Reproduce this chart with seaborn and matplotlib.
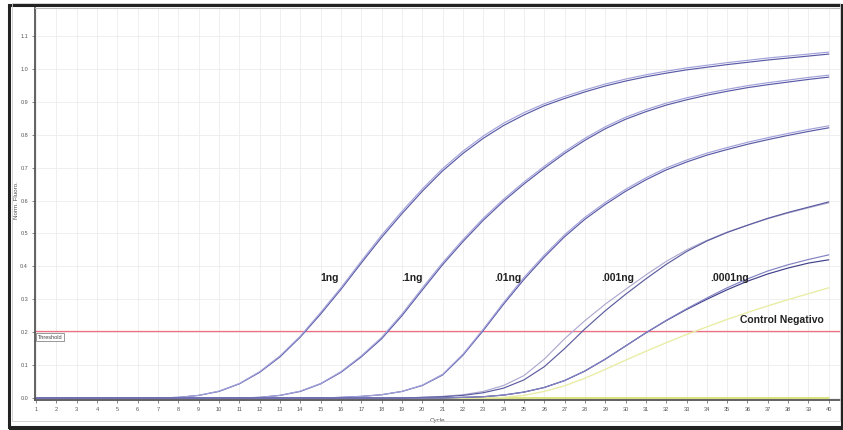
import matplotlib
matplotlib.use("Agg")
import matplotlib.pyplot as plt
import seaborn as sns
import pandas as pd
from matplotlib.patches import Rectangle

# ---------------- data ----------------
cycles = list(range(1, 41))

ng1_a = [0, 0, 0, 0, 0, 0, 0, 0.002, 0.008, 0.02, 0.043, 0.078, 0.125, 0.185, 0.255, 0.33, 0.41, 0.488, 0.56, 0.628,
         0.69, 0.743, 0.789, 0.828, 0.86, 0.888, 0.91, 0.93, 0.948, 0.963, 0.976, 0.987, 0.997, 1.005, 1.013, 1.02, 1.027, 1.033, 1.039, 1.045]
ng1_b = [0, 0, 0, 0, 0, 0, 0, 0.002, 0.008, 0.021, 0.044, 0.08, 0.128, 0.188, 0.26, 0.335, 0.416, 0.495, 0.567, 0.635,
         0.697, 0.75, 0.796, 0.835, 0.867, 0.894, 0.916, 0.936, 0.954, 0.969, 0.982, 0.993, 1.003, 1.011, 1.019, 1.026, 1.033, 1.039, 1.045, 1.051]

ng01_a = [0, 0, 0, 0, 0, 0, 0, 0, 0, 0, 0, 0.002, 0.008, 0.02, 0.043, 0.078, 0.125, 0.18, 0.25, 0.328,
          0.405, 0.475, 0.54, 0.598, 0.65, 0.698, 0.743, 0.783, 0.818, 0.847, 0.87, 0.89, 0.906, 0.92, 0.932, 0.943, 0.952, 0.96, 0.968, 0.975]
ng01_b = [0, 0, 0, 0, 0, 0, 0, 0, 0, 0, 0, 0.002, 0.008, 0.021, 0.044, 0.08, 0.128, 0.184, 0.255, 0.334,
          0.411, 0.481, 0.546, 0.604, 0.656, 0.704, 0.749, 0.789, 0.824, 0.853, 0.876, 0.896, 0.912, 0.926, 0.938, 0.949, 0.958, 0.966, 0.974, 0.981]

ng001_a = [0, 0, 0, 0, 0, 0, 0, 0, 0, 0, 0, 0, 0, 0, 0, 0.002, 0.005, 0.01, 0.02, 0.038,
           0.07, 0.13, 0.205, 0.285, 0.36, 0.428, 0.49, 0.543, 0.588, 0.628, 0.663, 0.693, 0.717, 0.738, 0.755, 0.771, 0.785, 0.798, 0.81, 0.821]
ng001_b = [0, 0, 0, 0, 0, 0, 0, 0, 0, 0, 0, 0, 0, 0, 0, 0.002, 0.005, 0.01, 0.02, 0.039,
           0.072, 0.133, 0.209, 0.29, 0.366, 0.434, 0.496, 0.549, 0.594, 0.634, 0.669, 0.699, 0.723, 0.744, 0.761, 0.777, 0.791, 0.804, 0.816, 0.827]

ng0001_a = [0, 0, 0, 0, 0, 0, 0, 0, 0, 0, 0, 0, 0, 0, 0, 0, 0, 0, 0, 0.002,
            0.005, 0.01, 0.02, 0.038, 0.068, 0.118, 0.18, 0.235, 0.285, 0.33, 0.374, 0.415, 0.45, 0.479, 0.504, 0.525, 0.545, 0.562, 0.578, 0.593]
ng0001_b = [0, 0, 0, 0, 0, 0, 0, 0, 0, 0, 0, 0, 0, 0, 0, 0, 0, 0, 0, 0.002,
            0.004, 0.008, 0.016, 0.03, 0.055, 0.095, 0.15, 0.21, 0.265, 0.315, 0.362, 0.406, 0.445, 0.477, 0.503, 0.525, 0.546, 0.564, 0.58, 0.596]

ng00001_a = [0, 0, 0, 0, 0, 0, 0, 0, 0, 0, 0, 0, 0, 0, 0, 0, 0, 0, 0, 0,
             0, 0.002, 0.004, 0.009, 0.018, 0.032, 0.053, 0.082, 0.118, 0.158, 0.198, 0.235, 0.269, 0.3, 0.329, 0.355, 0.377, 0.395, 0.41, 0.42]
ng00001_b = [0, 0, 0, 0, 0, 0, 0, 0, 0, 0, 0, 0, 0, 0, 0, 0, 0, 0, 0, 0,
             0, 0.002, 0.004, 0.009, 0.018, 0.032, 0.053, 0.082, 0.118, 0.158, 0.198, 0.236, 0.271, 0.304, 0.335, 0.362, 0.386, 0.405, 0.421, 0.435]

control_neg = [0, 0, 0, 0, 0, 0, 0, 0, 0, 0, 0, 0, 0, 0, 0, 0, 0, 0, 0, 0,
               0, 0, 0, 0.002, 0.008, 0.02, 0.037, 0.06, 0.087, 0.115, 0.142, 0.168, 0.193, 0.216, 0.239, 0.26, 0.28, 0.299, 0.317, 0.335]
baseline = [0.0] * 40

threshold = 0.205

labels = ["1ng", ".1ng", ".01ng", ".001ng", ".0001ng", "Control Negativo"]
label_x = [15.45, 19.5, 24.2, 29.6, 35.1, 37.7]
label_y = [0.365, 0.365, 0.365, 0.365, 0.365, 0.237]

y_ticks = [0.0, 0.1, 0.2, 0.3, 0.4, 0.5, 0.6, 0.7, 0.8, 0.9, 1.0, 1.1]

# ---------------- plot ----------------
sns.set_theme(style="white")
plt.rcParams["font.family"] = ["Liberation Sans", "DejaVu Sans"]

fig = plt.figure(figsize=(8.43, 4.30), dpi=100)
ax = fig.add_axes([35 / 843, 30 / 430, 806 / 843, 392 / 430])

dark = "#5a5aa6"
light = "#a2a2da"

sns.lineplot(x=cycles, y=baseline, ax=ax, color="#d6df6a", lw=1.2)
sns.lineplot(x=cycles, y=control_neg, ax=ax, color="#e9eda6", lw=1.0)
series = [(ng1_a, dark), (ng1_b, light), (ng01_a, dark), (ng01_b, light),
          (ng001_a, dark), (ng001_b, light), (ng0001_a, "#aeaad0"), (ng0001_b, "#5c5ca0"),
          (ng00001_a, "#40408a"), (ng00001_b, "#8282c4")]
for vals, col in series:
    sns.lineplot(x=cycles, y=vals, ax=ax, color=col, lw=0.85)

ax.plot([0.95, 40.6], [threshold, threshold], color="#f03c5a", lw=0.9, zorder=1.5, alpha=0.75)
ax.text(1.08, threshold - 0.012, "Threshold", fontsize=4, color="#444", va="top", ha="left",
        bbox=dict(boxstyle="square,pad=0.25", fc="white", ec="#888", lw=0.6))

for t, x, y in zip(labels, label_x, label_y):
    ax.text(x, y, t, fontsize=7.5, fontweight="bold", color="#222", ha="center", va="center")

ax.set_xlim(0.95, 40.6)
ax.set_ylim(-0.006, 1.185)
ax.set_xticks(cycles)
ax.set_xticklabels([str(c) for c in cycles])
ax.set_yticks(y_ticks)
ax.set_yticklabels([f"{v:.1f}" for v in y_ticks])
ax.tick_params(axis="both", labelsize=4, colors="#555", length=2, width=0.5, pad=3,
               bottom=True, left=True)
ax.grid(True, color="#ededed", lw=0.6)
ax.set_axisbelow(True)

for side in ["top", "right"]:
    ax.spines[side].set_color("#bbbbbb")
    ax.spines[side].set_linewidth(0.8)
for side in ["left", "bottom"]:
    ax.spines[side].set_color("#555555")
    ax.spines[side].set_linewidth(1.3)

ax.set_xlabel("Cycle", fontsize=4.5, color="#555")
ax.set_ylabel("Norm. Fluoro.", fontsize=4.5, color="#555")
ax.xaxis.set_label_coords(0.499, -0.046)
ax.yaxis.set_label_coords(-0.02, 0.51)

# screenshot frame
fig.patches.append(Rectangle((9 / 843, 3 / 430), 842 / 843 - 9 / 843, 425 / 430 - 3 / 430,
                             transform=fig.transFigure, fill=False, ec="#222222", lw=2.2))
fig.patches.append(Rectangle((9 / 843, 0), 834 / 843, 4 / 430, transform=fig.transFigure,
                             fc="#222222", ec="none"))
fig.patches.append(Rectangle((12 / 843, 9 / 430), 828 / 843, 418 / 430, transform=fig.transFigure,
                             fill=False, ec="#cccccc", lw=0.6))

fig.savefig("out.png", dpi=100)
